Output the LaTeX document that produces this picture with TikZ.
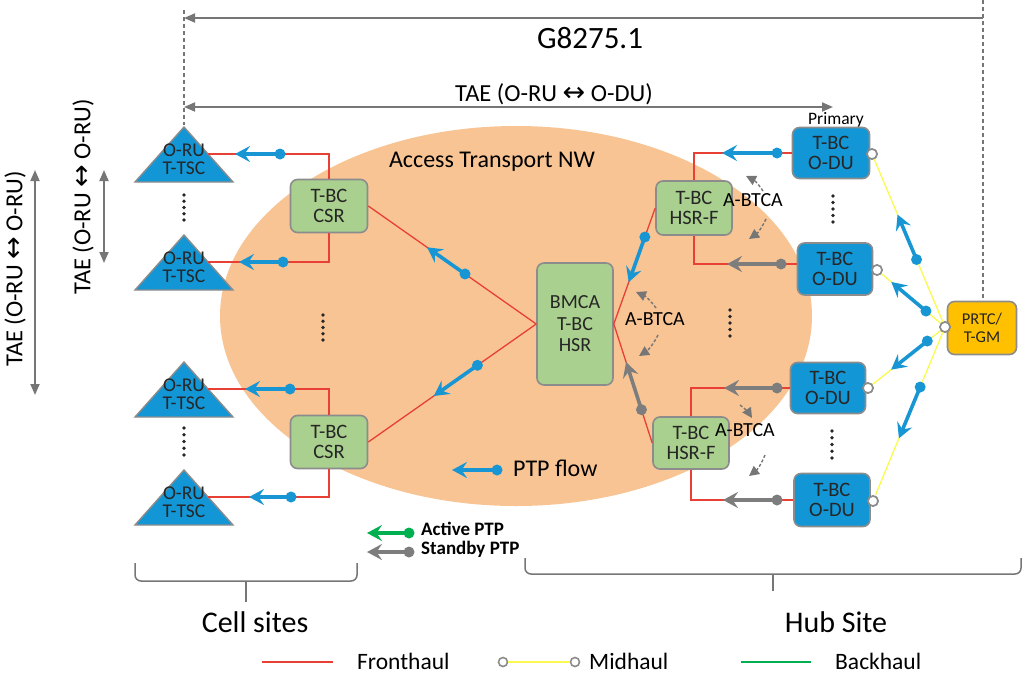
\documentclass[tikz,border=0pt]{standalone}
\usepackage{fontspec}
\setmainfont{Carlito}
\newfontfamily\symfont{DejaVu Sans}
\usetikzlibrary{arrows.meta,calc}
\definecolor{ellorange}{RGB}{248,196,148}
\definecolor{boxblue}{RGB}{18,150,214}
\definecolor{boxgreen}{RGB}{169,208,142}
\definecolor{gold}{RGB}{255,192,0}
\definecolor{fhred}{RGB}{232,64,52}
\definecolor{mhyellow}{RGB}{250,250,80}
\definecolor{bhgreen}{RGB}{0,176,80}
\definecolor{ptpblue}{RGB}{24,150,212}
\definecolor{ptpgray}{RGB}{125,125,125}
\definecolor{dimgray}{RGB}{118,118,118}
\definecolor{bordergray}{RGB}{140,140,140}
\newcommand{\setfs}[2]{\fontsize{#1}{#2}\selectfont}
\newcommand{\dblarr}{{\symfont\char"2194}}
\newcommand{\ptparrow}[3]{%
  \draw[ptpline,draw=#1] #2 -- #3;
  \fill[#1] #2 circle[radius=5.5pt];}
\newcommand{\vdotsfive}[3]{%
  \foreach \k in {0,...,4}{\fill[black!85] (#1,{#2+\k*(#3-#2)/4}) circle[radius=1.8pt];}}
\tikzset{dimtip/.tip={Triangle[length=11pt,width=9pt]}}
\begin{document}
\begin{tikzpicture}[x=1pt,y=-1pt,
  box/.style={rounded corners=7pt, draw=bordergray, line width=1.6pt, align=center,
    inner sep=0pt, text=black!85, font=\setfs{20.5}{20.5}},
  gbox/.style={box, fill=boxgreen},
  bbox/.style={box, fill=boxblue},
  tri/.style={fill=boxblue, draw=bordergray, line width=1.4pt, line join=miter},
  tritext/.style={align=center, inner sep=0pt, text=black!85, font=\setfs{19.5}{18.5}},
  port/.style={circle, draw=bordergray, fill=white, line width=1.6pt, minimum size=10pt, inner sep=0pt},
  fh/.style={draw=fhred, line width=1.3pt},
  mh/.style={draw=mhyellow, line width=1.3pt},
  ptpline/.style={line width=3.6pt, -{Stealth[length=15pt,width=16pt,inset=5.5pt]}},
  dim/.style={draw=dimgray, line width=1.8pt},
  vdash/.style={draw=dimgray, line width=1.2pt, dash pattern=on 4pt off 3pt},
  btca/.style={draw=dimgray, line width=1.4pt, dash pattern=on 3pt off 2pt, -{Triangle[length=10pt,width=10pt]}},
  lbl/.style={inner sep=0pt, text=black},
  brace/.style={draw=dimgray, line width=1.5pt, rounded corners=6pt}
]
\useasboundingbox (0,0) rectangle (1032,680);

% access network ellipse
\fill[ellorange] (516,316) ellipse [x radius=296pt, y radius=190pt];

% dimension lines
\draw[vdash] (184,10) -- (184,125);
\draw[vdash] (983,0) -- (983,300);
\coordinate (gl) at (184,18);
\coordinate (gr) at (983,18);
\draw[dim, {dimtip}-] (gl) -- (gr);
\node[lbl, font=\setfs{31}{31}] (g8275) at (590,38) {G8275.1};
\coordinate (tl) at (184,107);
\coordinate (tr) at (833,107);
\draw[dim, {dimtip}-{dimtip}] (tl) -- (tr);
\node[lbl, font=\setfs{24.5}{24.5}] (taetop) at (554,94) {TAE (O-RU {\setfs{27}{27}\dblarr} O-DU)};
\node[lbl, font=\setfs{17.5}{17.5}] (primary) at (836,120) {Primary};

% left TAE arrows
\coordinate (la1) at (35,170);
\coordinate (la2) at (35,395);
\draw[dim, {dimtip}-{dimtip}] (la1) -- (la2);
\node[lbl, rotate=90, font=\setfs{24.5}{24.5}] (taeout) at (15,269) {TAE (O-RU {\setfs{27}{27}\dblarr} O-RU)};
\coordinate (lb1) at (104,170);
\coordinate (lb2) at (104,263);
\draw[dim, {dimtip}-{dimtip}] (lb1) -- (lb2);
\node[lbl, rotate=90, font=\setfs{24.5}{24.5}] (taein) at (83,197) {TAE (O-RU {\setfs{27}{27}\dblarr} O-RU)};

% O-RU triangles
\foreach \a/\n in {127/1,235/2,362/3,470/4}{
  \draw[tri] (184,\a) -- (233,\a+55) -- (135,\a+55) -- cycle;
  \node[tritext] (oru\n) at (184,\a+32) {O-RU\\T-TSC};
  \coordinate (t\n e) at (208,\a+27);
}
\vdotsfive{184}{195}{220}
\vdotsfive{184}{428}{455}

\node[lbl, font=\setfs{24}{24}] (atnw) at (492,162) {Access Transport NW};

% boxes
\node[gbox, minimum width=77pt, minimum height=53pt] (csr1) at (329,206) {T-BC\\CSR};
\node[gbox, minimum width=77pt, minimum height=53pt] (csr2) at (329,442) {T-BC\\CSR};
\node[gbox, minimum width=76pt, minimum height=122pt, font=\setfs{20}{21.5}] (bmca) at (575,324) {BMCA\\T-BC\\HSR};
\node[gbox, minimum width=76pt, minimum height=54pt] (hsrf1) at (694,208) {T-BC\\HSR-F};
\node[gbox, minimum width=76pt, minimum height=52pt] (hsrf2) at (691,443) {T-BC\\HSR-F};
\node[bbox, minimum width=77pt, minimum height=51pt] (odu1) at (831,153) {T-BC\\O-DU};
\node[bbox, minimum width=75pt, minimum height=52pt] (odu2) at (835,269) {T-BC\\O-DU};
\node[bbox, minimum width=75pt, minimum height=51pt] (odu3) at (828,388) {T-BC\\O-DU};
\node[bbox, minimum width=76pt, minimum height=53pt] (odu4) at (832,500) {T-BC\\O-DU};
\node[box, fill=gold, minimum width=69pt, minimum height=53pt, font=\setfs{16.5}{18}] (prtc) at (982,328) {PRTC/\\T-GM};

\vdotsfive{323}{315}{340}
\vdotsfive{730}{310}{336}
\vdotsfive{833}{196}{222}
\vdotsfive{832}{431}{458}

% fronthaul links
\draw[fh] (csr1.north) |- (t1e);
\draw[fh] (csr1.south) |- (t2e);
\draw[fh] (csr2.north) |- (t3e);
\draw[fh] (csr2.south) |- (t4e);
\draw[fh] (csr1.east) -- (bmca.west);
\draw[fh] (csr2.east) -- (bmca.west);
\draw[fh] (bmca.east) -- (hsrf1.west);
\draw[fh] (bmca.east) -- (hsrf2.west);
\coordinate (o2in) at (797,264);
\draw[fh] (hsrf1.north) |- (odu1.west);
\draw[fh] (hsrf1.south) |- (o2in);
\draw[fh] (hsrf2.north) |- (odu3.west);
\draw[fh] (hsrf2.south) |- (odu4.west);

% midhaul links
\node[port] (pp) at (945,327) {};
\node[port] (p1) at (872,154) {};
\node[port] (p2) at (877,270) {};
\node[port] (p3) at (868,388) {};
\node[port] (p4) at (873,501) {};
\foreach \p in {p1,p2,p3,p4}{\draw[mh] (pp) -- (\p);}
\foreach \p in {pp,p1,p2,p3,p4}{\node[port] at (\p) {};}

% PTP flows
\ptparrow{ptpblue}{(280,154)}{(235,154)}
\ptparrow{ptpblue}{(283,262)}{(239,262)}
\ptparrow{ptpblue}{(290,389)}{(245,389)}
\ptparrow{ptpblue}{(291,497)}{(249,497)}
\ptparrow{ptpblue}{($(csr1.east)!0.576!(bmca.west)$)}{($(csr1.east)!0.35!(bmca.west)$)}
\ptparrow{ptpblue}{($(csr2.east)!0.65!(bmca.west)$)}{($(csr2.east)!0.39!(bmca.west)$)}
\ptparrow{ptpblue}{($(bmca.east)!0.75!(hsrf1.west)$)}{($(bmca.east)!0.36!(hsrf1.west)$)}
\ptparrow{ptpgray}{($(bmca.east)!0.72!(hsrf2.west)$)}{($(bmca.east)!0.32!(hsrf2.west)$)}
\ptparrow{ptpblue}{(777,153)}{(722,153)}
\ptparrow{ptpgray}{(781,264)}{(727,264)}
\ptparrow{ptpgray}{(777,388)}{(724,388)}
\ptparrow{ptpgray}{(777,500)}{(723,500)}
\ptparrow{ptpblue}{($(pp)!0.39!(p1)$)}{($(pp)!0.65!(p1)$)}
\ptparrow{ptpblue}{($(pp)!0.28!(p2)$)}{($(pp)!0.79!(p2)$)}
\ptparrow{ptpblue}{($(pp)!0.23!(p3)$)}{($(pp)!0.70!(p3)$)}
\ptparrow{ptpblue}{($(pp)!0.345!(p4)$)}{($(pp)!0.64!(p4)$)}

% A-BTCA
\draw[btca] (763,191) to[bend right=15] (746,176);
\draw[btca] (766,219) to[bend left=15] (749,239);
\draw[btca] (656,308) to[bend right=15] (636,292);
\draw[btca] (658,335) to[bend left=15] (639,356);
\draw[btca] (740,405) to[bend left=10] (752,418);
\draw[btca] (765,455) to[bend left=15] (749,476);
\node[lbl, font=\setfs{20}{20}] (ab1) at (753,200) {A-BTCA};
\node[lbl, font=\setfs{20}{20}] (ab2) at (655,319) {A-BTCA};
\node[lbl, font=\setfs{20}{20}] (ab3) at (745,430) {A-BTCA};

% PTP flow legend
\ptparrow{ptpblue}{(497,470)}{(452,470)}
\node[lbl, anchor=west, font=\setfs{24}{24}] (ptpflow) at (513,468) {PTP flow};
\ptparrow{bhgreen}{(409,533)}{(367,533)}
\ptparrow{ptpgray}{(409,552)}{(367,552)}
\node[lbl, anchor=west, font=\bfseries\setfs{19}{19}] (active) at (421,529) {Active PTP};
\node[lbl, anchor=west, font=\bfseries\setfs{19}{19}] (standby) at (421,549) {Standby PTP};

% braces
\draw[brace] (135,563) -- (135,581) -- (357,581) -- (357,563);
\draw[dim, line width=1.5pt] (246,581) -- (246,602);
\draw[brace] (525,558) -- (525,574) -- (1021,574) -- (1021,558);
\draw[dim, line width=1.5pt] (773,574) -- (773,591);
\node[lbl, font=\setfs{30}{30}] (cells) at (255,622) {Cell sites};
\node[lbl, font=\setfs{30}{30}] (hub) at (836,622) {Hub Site};

% bottom legend
\coordinate (f1) at (262,662); \coordinate (f2) at (333,662);
\draw[fh, line width=2.6pt] (f1) -- (f2);
\node[lbl, anchor=west, font=\setfs{23.5}{23.5}] (fronthaul) at (357,661) {Fronthaul};
\node[port, minimum size=9pt] (m1) at (503,662) {};
\node[port, minimum size=9pt] (m2) at (575,662) {};
\draw[mh, line width=2.6pt] (m1) -- (m2);
\node[lbl, anchor=west, font=\setfs{23.5}{23.5}] (midhaul) at (589,661) {Midhaul};
\coordinate (b1) at (741,662); \coordinate (b2) at (811,662);
\draw[draw=bhgreen, line width=2.6pt] (b1) -- (b2);
\node[lbl, anchor=west, font=\setfs{23.5}{23.5}] (backhaul) at (835,661) {Backhaul};
\end{tikzpicture}
\end{document}
